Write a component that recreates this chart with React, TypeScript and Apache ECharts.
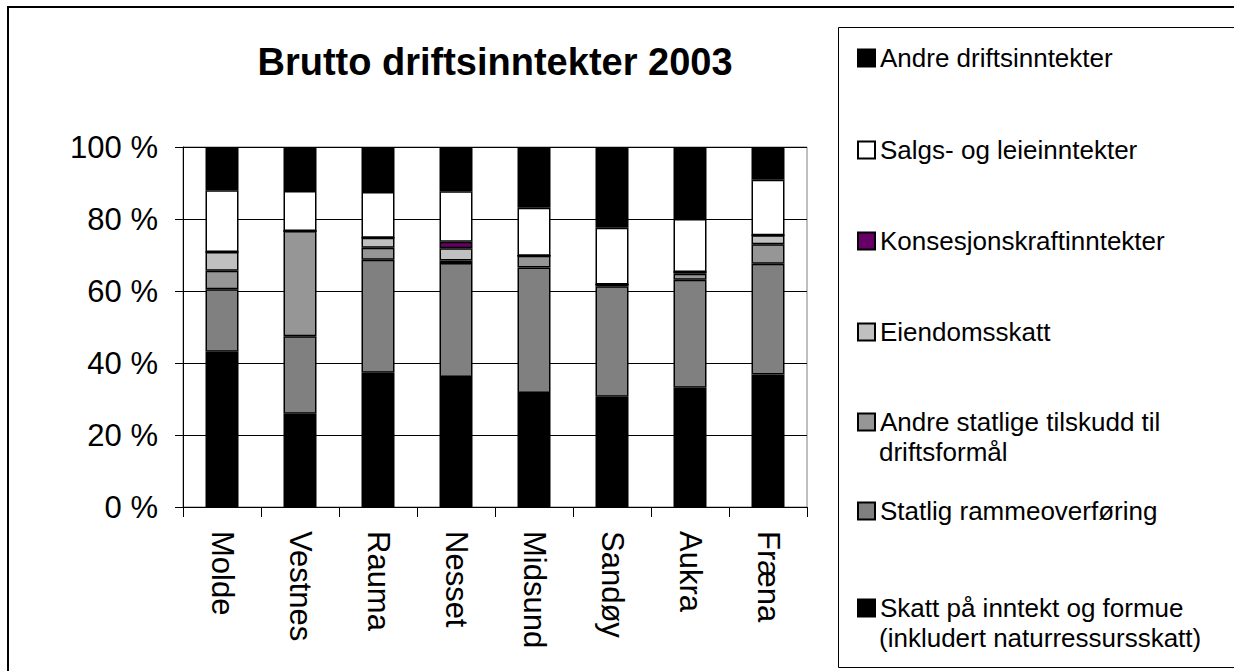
import React, { useEffect, useRef } from "react";
import * as echarts from "echarts";

const categories = ["Molde", "Vestnes", "Rauma", "Nesset", "Midsund", "Sandøy", "Aukra", "Fræna"];
const skatt = [43.1, 25.9, 37.3, 36.1, 31.7, 30.6, 33.1, 36.8];
const ramme = [17.4, 21.5, 31.4, 31.7, 34.8, 30.7, 30.0, 30.8];
const andreStatlige = [5.1, 29.3, 3.3, 0.7, 3.3, 0.5, 1.7, 5.4];
const eiendom = [5.2, 0, 2.8, 3.4, 0, 0, 0.5, 2.5];
const konsesjon = [0, 0, 0, 1.8, 0, 0, 0, 0];
const salgs = [17.2, 11.1, 12.7, 14.0, 13.3, 15.8, 14.7, 15.4];
const andreDrift = [12.0, 12.2, 12.5, 12.3, 16.9, 22.4, 20.0, 9.1];
const yTicks = [0, 20, 40, 60, 80, 100];

const seriesDefs = [
  { name: "Skatt på inntekt og formue", data: skatt, color: "#000000", line2: "(inkludert naturressursskatt)", y: 608 },
  { name: "Statlig rammeoverføring", data: ramme, color: "#808080", line2: "", y: 511 },
  { name: "Andre statlige tilskudd til", data: andreStatlige, color: "#969696", line2: "driftsformål", y: 422 },
  { name: "Eiendomsskatt", data: eiendom, color: "#C0C0C0", line2: "", y: 332 },
  { name: "Konsesjonskraftinntekter", data: konsesjon, color: "#660066", line2: "", y: 241 },
  { name: "Salgs- og leieinntekter", data: salgs, color: "#FFFFFF", line2: "", y: 150 },
  { name: "Andre driftsinntekter", data: andreDrift, color: "#000000", line2: "", y: 58 },
];

const FONT = "'Liberation Sans', Arial, sans-serif";

export default function App() {
  const ref = useRef<HTMLDivElement>(null);
  useEffect(() => {
    if (!ref.current) return;
    const chart = echarts.init(ref.current, undefined, { renderer: "svg" });
    const legendFont = 26;
    chart.setOption({
      animation: false,
      backgroundColor: "#ffffff",
      textStyle: { fontFamily: FONT, color: "#000" },
      title: {
        text: "Brutto driftsinntekter 2003",
        left: 490,
        top: 38,
        textAlign: "center",
        textStyle: { fontFamily: FONT, fontSize: 38, fontWeight: "bold", color: "#000" },
      },
      legend: seriesDefs.map((s) => ({
        data: [s.name],
        left: 857,
        top: s.y - 15,
        orient: "vertical",
        icon: "rect",
        itemWidth: 17,
        itemHeight: 17,
        itemGap: 0,
        padding: 0,
        selectedMode: false,
        textStyle: { fontFamily: FONT, fontSize: legendFont, color: "#000", lineHeight: 30 },
      })),
      grid: {
        left: 183,
        top: 147,
        width: 624,
        height: 360,
        show: true,
        borderColor: "#808080",
        borderWidth: 1,
        backgroundColor: "#ffffff",
      },
      xAxis: {
        type: "category",
        data: categories,
        axisLine: { lineStyle: { color: "#000", width: 1 } },
        axisTick: { show: true, length: 10, alignWithLabel: false, lineStyle: { color: "#000" } },
        axisLabel: {
          rotate: -90,
          margin: 24,
          fontSize: 31,
          fontFamily: FONT,
          color: "#000",
        },
      },
      yAxis: {
        type: "value",
        min: 0,
        max: 100,
        interval: 20,
        axisLine: { show: true, lineStyle: { color: "#000", width: 1 } },
        axisTick: { show: true, length: 8, lineStyle: { color: "#000" } },
        splitLine: { show: true, lineStyle: { color: "#000", width: 1 } },
        axisLabel: {
          margin: 25,
          fontSize: 31,
          fontFamily: FONT,
          color: "#000",
          formatter: (v: number) => (yTicks.includes(v) ? `${v} %` : ""),
        },
      },
      series: seriesDefs.map((s) => ({
        name: s.name,
        type: "bar",
        stack: "total",
        barWidth: 33,
        data: s.data,
        itemStyle: { color: s.color, borderColor: "#000", borderWidth: 1.5 },
        emphasis: { disabled: true },
      })),
      graphic: [
        {
          type: "rect",
          shape: { x: 8, y: 7, width: 1300, height: 700 },
          style: { fill: "none", stroke: "#000", lineWidth: 2 },
          silent: true,
          z: 100,
        },
        {
          type: "rect",
          shape: { x: 838.5, y: 27.5, width: 500, height: 640 },
          style: { fill: "none", stroke: "#000", lineWidth: 1 },
          silent: true,
          z: 100,
        },
        ...seriesDefs
          .filter((s) => s.line2)
          .map((s) => ({
            type: "text",
            left: 879,
            top: s.y + 17,
            style: { text: s.line2, fontFamily: FONT, fontSize: legendFont, fill: "#000" },
            silent: true,
          })),
      ],
    });
    return () => chart.dispose();
  }, []);
  return (
    <div
      ref={ref}
      style={{ position: "fixed", left: 0, top: 0, width: 1234, height: 671, background: "#fff" }}
    />
  );
}
